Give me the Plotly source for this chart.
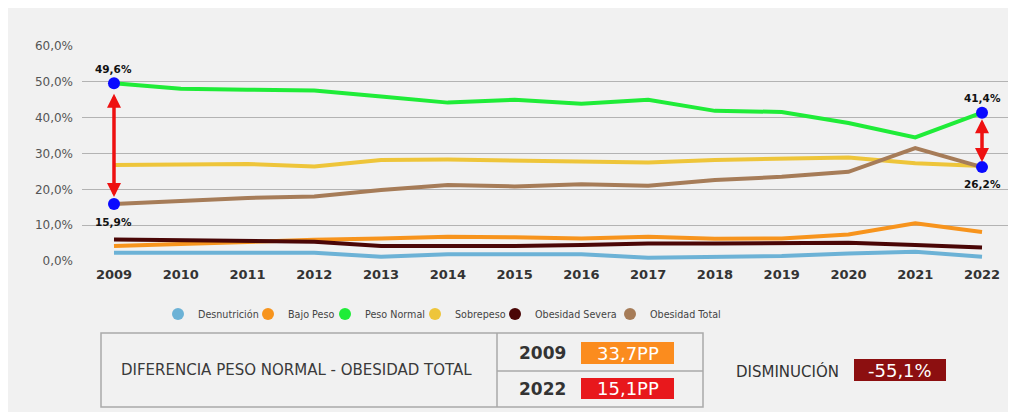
import plotly.graph_objects as go

years = list(range(2009, 2023))
year_labels = [str(y) for y in years]

desnutricion = [2.3, 2.3, 2.3, 2.3, 1.2, 1.9, 1.9, 1.9, 0.9, 1.2, 1.4, 2.1, 2.6, 1.2]
bajo_peso = [4.2, 4.8, 5.3, 5.9, 6.3, 6.8, 6.6, 6.3, 6.8, 6.2, 6.3, 7.4, 10.5, 8.1]
peso_normal = [49.6, 48.1, 47.8, 47.6, 45.9, 44.2, 45.0, 43.9, 45.0, 41.9, 41.6, 38.5, 34.5, 41.4]
sobrepeso = [26.8, 26.9, 27.1, 26.4, 28.2, 28.3, 28.1, 27.9, 27.5, 28.2, 28.6, 28.9, 27.3, 26.5]
obesidad_severa = [6.0, 5.8, 5.6, 5.4, 4.2, 4.2, 4.2, 4.5, 4.9, 4.9, 4.9, 5.1, 4.5, 3.8]
obesidad_total = [15.9, 16.8, 17.6, 18.0, 19.8, 21.2, 20.8, 21.4, 21.0, 22.6, 23.5, 24.9, 31.5, 26.2]

series_names = ["Desnutrición", "Bajo Peso", "Peso Normal", "Sobrepeso", "Obesidad Severa", "Obesidad Total"]
series_values = [desnutricion, bajo_peso, peso_normal, sobrepeso, obesidad_severa, obesidad_total]
series_colors = ["#6cb2d6", "#f7941d", "#1fec38", "#eec53a", "#4a0606", "#a67c58"]
legend_widths = [45, 32, 45, 35, 70, 76]

y_ticks = [0, 10, 20, 30, 40, 50, 60]

table_title = "DIFERENCIA PESO NORMAL - OBESIDAD TOTAL"
diff_years = ["2009", "2022"]
diff_values = ["33,7PP", "15,1PP"]
diff_colors = ["#fb8c1e", "#e8181c"]
dec_label = "DISMINUCIÓN"
dec_value = "-55,1%"
dec_color = "#8c0f10"

OFF = 8  # page body margin
W, H = 1008, 404
L, T = 74, 38
PW, PH = 931, 215
R, B = W - L - PW, H - T - PH


def px(x):  # page x -> paper
    return (x - OFF - L) / PW


def py(y):  # page y -> paper
    return (T + PH - (y - OFF)) / PH


def fmt(v):
    return f"{v:.1f}%".replace(".", ",")


fig = go.Figure()

draw_order = [0, 1, 4, 3, 5, 2]
for i in draw_order:
    fig.add_trace(go.Scatter(
        x=years, y=series_values[i], mode="lines",
        line=dict(color=series_colors[i], width=4),
        showlegend=False, hoverinfo="skip"))

for name, color, lw in zip(series_names, series_colors, legend_widths):
    fig.add_trace(go.Scatter(
        x=[None], y=[None], mode="markers", name=name, legendwidth=lw,
        marker=dict(color=color, size=12)))

# highlighted points
hx = [years[0], years[-1], years[0], years[-1]]
hy = [peso_normal[0], peso_normal[-1], obesidad_total[0], obesidad_total[-1]]
fig.add_trace(go.Scatter(
    x=hx, y=hy, mode="markers",
    marker=dict(color="#0a0aff", size=12), showlegend=False, hoverinfo="skip", cliponaxis=False))

annotations = []
lab_font = dict(family="DejaVu Sans", size=10.5, color="#111", weight="bold")
for xv, yv, ys in zip(hx, hy, [14, 15, -18, -17]):
    annotations.append(dict(x=xv, y=yv, xref="x", yref="y", text=fmt(yv), showarrow=False,
                            xanchor="center", yanchor="middle", yshift=ys, font=lab_font))

for idx, so, ss in [(0, 7, 9), (-1, 5, 5)]:
    annotations.append(dict(
        x=years[idx], y=obesidad_total[idx], ax=years[idx], ay=peso_normal[idx],
        xref="x", yref="y", axref="x", ayref="y", text="", showarrow=True,
        arrowhead=2, arrowside="end+start", arrowsize=0.8, arrowwidth=3.5,
        arrowcolor="#ee1111", standoff=so, startstandoff=ss))

shapes = []
line_c = "#a9a9a9"
shapes.append(dict(type="rect", xref="paper", yref="paper", x0=px(101), x1=px(703), y0=py(333), y1=py(407),
                   line=dict(color=line_c, width=1.5)))
shapes.append(dict(type="line", xref="paper", yref="paper", x0=px(497), x1=px(497), y0=py(333), y1=py(407),
                   line=dict(color=line_c, width=1.5)))
shapes.append(dict(type="line", xref="paper", yref="paper", x0=px(497), x1=px(703), y0=py(371), y1=py(371),
                   line=dict(color=line_c, width=1.5)))


def text_at(x, y, text, font):
    annotations.append(dict(x=px(x), y=py(y), xref="paper", yref="paper", text=text, showarrow=False,
                            xanchor="center", yanchor="middle", font=font))


text_at(296, 370, table_title, dict(family="DejaVu Sans", size=15, color="#3a3a3a"))

row_y = [(342, 364), (378, 399)]
for (y0, y1), yr, val, col in zip(row_y, diff_years, diff_values, diff_colors):
    shapes.append(dict(type="rect", xref="paper", yref="paper", x0=px(581), x1=px(674), y0=py(y0), y1=py(y1),
                       fillcolor=col, line_width=0))
    text_at(542, (y0 + y1) / 2, yr, dict(family="DejaVu Sans", size=17, color="#333", weight="bold"))
    text_at(627.5, (y0 + y1) / 2, val, dict(family="DejaVu Sans", size=18, color="white"))

shapes.append(dict(type="rect", xref="paper", yref="paper", x0=px(854), x1=px(946), y0=py(359), y1=py(381),
                   fillcolor=dec_color, line_width=0))
text_at(787, 371, dec_label, dict(family="DejaVu Sans", size=15, color="#333"))
text_at(900, 370, dec_value, dict(family="DejaVu Sans", size=18, color="white"))

fig.update_layout(
    width=W, height=H, autosize=False,
    margin=dict(l=L, r=R, t=T, b=B, pad=0),
    paper_bgcolor="#f1f1f1", plot_bgcolor="rgba(0,0,0,0)",
    showlegend=True,
    legend=dict(orientation="h", x=px(158), y=py(314), xanchor="left", yanchor="middle",
                font=dict(family="DejaVu Sans", size=9.6, color="#444"), bgcolor="rgba(0,0,0,0)",
                itemwidth=30, tracegroupgap=0),
    xaxis=dict(range=[2009 - 32 / 66.8, 2022 + 31 / 66.8], tickvals=years, ticktext=year_labels,
               showgrid=False, zeroline=False, showline=False, ticks="",
               tickfont=dict(family="DejaVu Sans", size=13, color="#333", weight="bold"),
               ticklabelstandoff=4),
    yaxis=dict(range=[0, 60], tickvals=y_ticks, ticktext=[fmt(v) for v in y_ticks],
               showgrid=True, gridcolor="#b3b3b3", gridwidth=1, zeroline=False, showline=False, ticks="",
               tickfont=dict(family="DejaVu Sans", size=12, color="#555"), ticklabelstandoff=8),
    shapes=shapes, annotations=annotations,
)

fig.write_html("out.html")
